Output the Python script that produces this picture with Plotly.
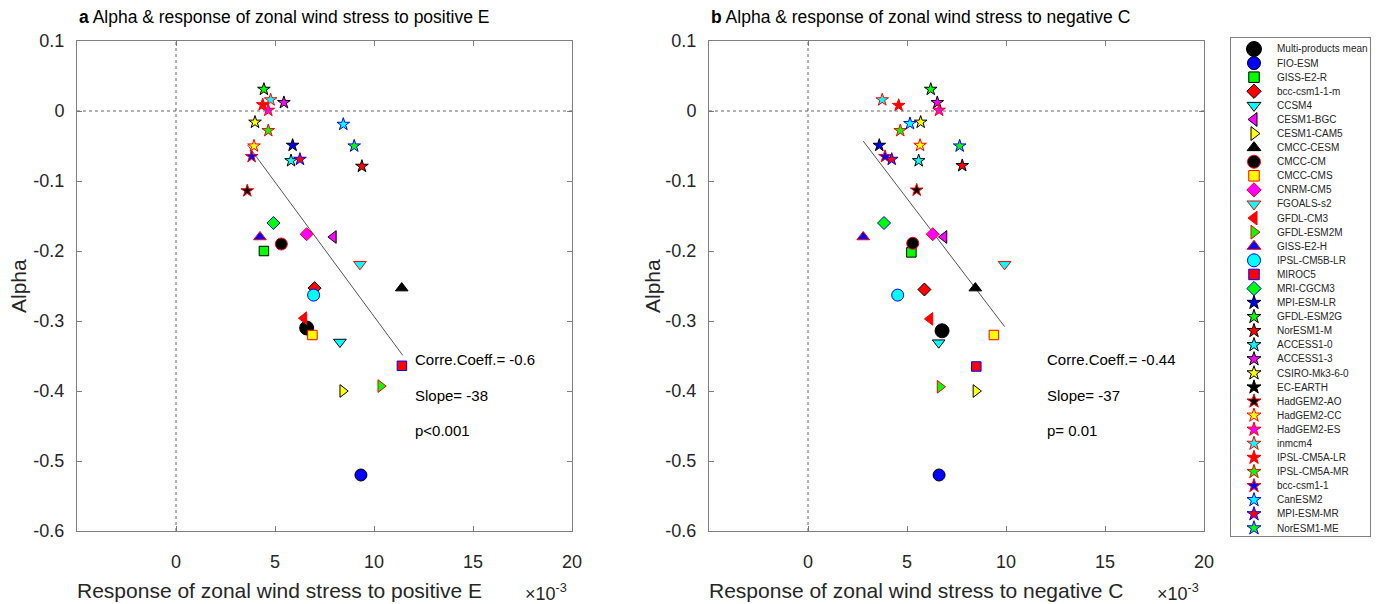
import plotly.graph_objects as go

# ---------------- data ----------------
models = ["Multi-products mean", "FIO-ESM", "GISS-E2-R", "bcc-csm1-1-m", "CCSM4", "CESM1-BGC",
          "CESM1-CAM5", "CMCC-CESM", "CMCC-CM", "CMCC-CMS", "CNRM-CM5", "FGOALS-s2", "GFDL-CM3",
          "GFDL-ESM2M", "GISS-E2-H", "IPSL-CM5B-LR", "MIROC5", "MRI-CGCM3", "MPI-ESM-LR",
          "GFDL-ESM2G", "NorESM1-M", "ACCESS1-0", "ACCESS1-3", "CSIRO-Mk3-6-0", "EC-EARTH",
          "HadGEM2-AO", "HadGEM2-CC", "HadGEM2-ES", "inmcm4", "IPSL-CM5A-LR", "IPSL-CM5A-MR",
          "bcc-csm1-1", "CanESM2", "MPI-ESM-MR", "NorESM1-ME"]

# panel a: response to positive E (x1e-3) and alpha
resp_pos_E = [6.6, 9.34, 4.44, 7.0, 8.28, 7.95, 8.42, 11.4, 5.32, 6.89, 6.6, 9.29, 6.46,
              10.34, 4.24, 6.95, 11.41, 4.92, 5.89, 4.44, 9.39, 5.81, 5.45, 3.99, None,
              3.6, 3.94, 4.66, 4.78, 4.38, 4.66, 3.82, 8.45, 6.26, 9.0]
alpha_a = [-0.31, -0.52, -0.20, -0.253, -0.33, -0.18, -0.40, -0.253, -0.19, -0.32, -0.176,
           -0.219, -0.296, -0.393, -0.18, -0.263, -0.364, -0.16, -0.049, 0.031, -0.079,
           -0.071, 0.012, -0.016, None, -0.114, -0.05, 0.001, 0.016, 0.009, -0.028, -0.065,
           -0.019, -0.069, -0.05]

# panel b: response to negative C (x1e-3) and alpha
resp_neg_C = [6.77, 6.62, 5.22, 5.88, 6.6, 6.87, 8.48, 8.45, 5.29, 9.39, 6.3, 9.93, 6.16,
              6.67, 2.79, 4.53, 8.5, 3.84, 3.6, 6.2, 7.79, 5.59, 6.53, 5.69, None,
              5.49, 5.66, 6.62, 3.75, 4.58, 4.66, 3.89, 5.15, 4.23, 7.66]
alpha_b = [-0.314, -0.52, -0.202, -0.255, -0.331, -0.18, -0.40, -0.253, -0.189, -0.32, -0.176,
           -0.219, -0.297, -0.394, -0.18, -0.263, -0.365, -0.16, -0.049, 0.031, -0.078,
           -0.071, 0.012, -0.016, None, -0.113, -0.049, 0.001, 0.016, 0.008, -0.028, -0.065,
           -0.018, -0.069, -0.05]

# regression lines (end points)
fit_a_x = [3.62, 11.45]
fit_a_y = [-0.0486, -0.349]
fit_b_x = [2.79, 9.93]
fit_b_y = [-0.043, -0.308]

stats_a = ["Corre.Coeff.= -0.6", "Slope= -38", "p<0.001"]
stats_b = ["Corre.Coeff.= -0.44", "Slope= -37", "p= 0.01"]

x_ticks = [0, 5, 10, 15, 20]
y_ticks = [0.1, 0, -0.1, -0.2, -0.3, -0.4, -0.5, -0.6]
y_ticktext = ["0.1", "0", "-0.1", "-0.2", "-0.3", "-0.4", "-0.5", "-0.6"]

# ---------------- styles ----------------
K, R, B, G, C, M, Y = "#000000", "#FF0000", "#0000FF", "#00FF00", "#00FFFF", "#FF00FF", "#FFFF00"
symbols = ["circle", "circle", "square", "diamond", "triangle-down", "triangle-left",
           "triangle-right", "triangle-up", "circle", "square", "diamond", "triangle-down",
           "triangle-left", "triangle-right", "triangle-up", "circle", "square", "diamond"] + ["star"] * 17
fills = [K, B, G, R, C, M, Y, K, K, Y, M, C, R, G, B, C, R, G,
         B, G, R, C, M, Y, K, K, Y, M, C, R, G, B, C, R, G]
edges = [K, K, K, K, K, K, K, K, R, R, R, R, R, R, R, B, B, B,
         K, K, K, K, K, K, K, R, R, R, R, R, R, R, B, B, B]
size_map = {"circle": 12, "square": 9.5, "diamond": 10, "triangle-down": 11, "triangle-left": 11,
            "triangle-right": 11, "triangle-up": 11, "star": 9.5}
sizes = [size_map[s] for s in symbols]
sizes[0] = 14

FONT = "Liberation Sans, Arial, sans-serif"
TXT = "#262626"
AX = "#808080"
W, H = 1381, 604

fig = go.Figure()

def add_panel(xs, ys, fx, fy, xa, ya):
    fig.add_trace(go.Scatter(x=fx, y=fy, mode="lines", xaxis=xa, yaxis=ya,
                             line=dict(color="#555555", width=1), showlegend=False, hoverinfo="skip"))
    for i, name in enumerate(models):
        fig.add_trace(go.Scatter(
            x=[xs[i]], y=[ys[i]], mode="markers", name=name, xaxis=xa, yaxis=ya, showlegend=False,
            marker=dict(symbol=symbols[i], size=sizes[i], color=fills[i],
                        line=dict(color=edges[i], width=1))))

add_panel(resp_pos_E, alpha_a, fit_a_x, fit_a_y, "x", "y")
add_panel(resp_neg_C, alpha_b, fit_b_x, fit_b_y, "x2", "y2")

# manual legend (own axis in pixel-like units)
leg_w, leg_h = 139, 498
for i, name in enumerate(models):
    fig.add_trace(go.Scatter(
        x=[23], y=[11 + i * 14.09], mode="markers", xaxis="x3", yaxis="y3", showlegend=False,
        marker=dict(symbol=symbols[i], size=sizes[i] + 1, color=fills[i],
                    line=dict(color=edges[i], width=1)), hoverinfo="skip"))
    fig.add_annotation(x=44, y=11 + i * 14.09, xref="x3", yref="y3", text=name, showarrow=False,
                       xanchor="left", yanchor="middle", font=dict(family=FONT, size=10, color=TXT))

def px_x(p):
    return p / W

def px_y(p):
    return (H - p) / H

ydom = [px_y(531), px_y(41)]
common_x = dict(range=[-5, 20], tickvals=x_ticks, ticks="inside", ticklen=5, tickcolor=AX,
                showline=True, linecolor=AX, linewidth=1, mirror="ticks", showgrid=False,
                zeroline=False, tickfont=dict(family=FONT, size=18, color=TXT), ticklabelstandoff=14,
                automargin=False)
common_y = dict(range=[-0.6, 0.1], tickvals=y_ticks, ticktext=y_ticktext, ticks="inside", ticklen=5,
                tickcolor=AX, showline=True, linecolor=AX, linewidth=1, mirror="ticks",
                showgrid=False, zeroline=False, tickfont=dict(family=FONT, size=18, color=TXT),
                ticklabelstandoff=8, domain=ydom, automargin=False)
legax = dict(showticklabels=False, ticks="", showgrid=False, zeroline=False, showline=True,
             mirror=True, linecolor=AX, automargin=False)

fig.update_layout(
    width=W, height=H, margin=dict(l=0, r=0, t=0, b=0, autoexpand=False),
    plot_bgcolor="white", paper_bgcolor="white",
    showlegend=False, font=dict(family=FONT, color=TXT),
    xaxis=dict(domain=[px_x(77), px_x(572)], anchor="y", **common_x),
    yaxis=dict(anchor="x", **common_y),
    xaxis2=dict(domain=[px_x(709), px_x(1204)], anchor="y2", **common_x),
    yaxis2=dict(anchor="x2", **common_y),
    xaxis3=dict(domain=[px_x(1231), px_x(1370)], anchor="y3", range=[0, leg_w], **legax),
    yaxis3=dict(domain=[px_y(536), px_y(38)], anchor="x3", range=[leg_h, 0], **legax),
)

# dotted zero lines
for xr, yr in (("x", "y"), ("x2", "y2")):
    fig.add_shape(type="line", xref=xr, yref=yr, x0=0, x1=0, y0=-0.6, y1=0.1,
                  line=dict(color="#666666", width=1, dash="dot"))
    fig.add_shape(type="line", xref=xr, yref=yr, x0=-5, x1=20, y0=0, y1=0,
                  line=dict(color="#666666", width=1, dash="dot"))

# titles and labels
panels = [
    (77, "<b>a</b> Alpha & response of zonal wind stress to positive E",
     "Response of zonal wind stress to positive E", 18, stats_a, 413, 75, 523),
    (709, "<b>b</b> Alpha & response of zonal wind stress to negative C",
     "Response of zonal wind stress to negative C", 652, stats_b, 1045, 707, 1155),
]
for left, title, xlabel, ylab_x, stats, sx, xl, expx in panels:
    fig.add_annotation(x=px_x(left), y=px_y(17), xref="paper", yref="paper", text=title,
                       showarrow=False, xanchor="left", yanchor="middle",
                       font=dict(family=FONT, size=17.5, color="#000000"))
    fig.add_annotation(x=px_x(xl), y=px_y(590), xref="paper", yref="paper", text=xlabel,
                       showarrow=False, xanchor="left", yanchor="middle",
                       font=dict(family=FONT, size=21, color=TXT))
    fig.add_annotation(x=px_x(ylab_x), y=px_y(286), xref="paper", yref="paper", text="Alpha",
                       showarrow=False, textangle=-90, xanchor="center", yanchor="middle",
                       font=dict(family=FONT, size=21, color=TXT))
    fig.add_annotation(x=px_x(expx), y=px_y(592), xref="paper", yref="paper",
                       text="\u00d710<sup>-3</sup>", showarrow=False, xanchor="left", yanchor="middle",
                       font=dict(family=FONT, size=18, color=TXT))
    for k, s in enumerate(stats):
        fig.add_annotation(x=px_x(sx), y=px_y(360 + 35 * k), xref="paper", yref="paper", text=s,
                           showarrow=False, xanchor="left", yanchor="middle",
                           font=dict(family=FONT, size=15, color="#000000"))

fig.write_html("out.html", config={"displayModeBar": False},
               post_script="document.body.style.margin='0';document.body.style.overflow='hidden';")
